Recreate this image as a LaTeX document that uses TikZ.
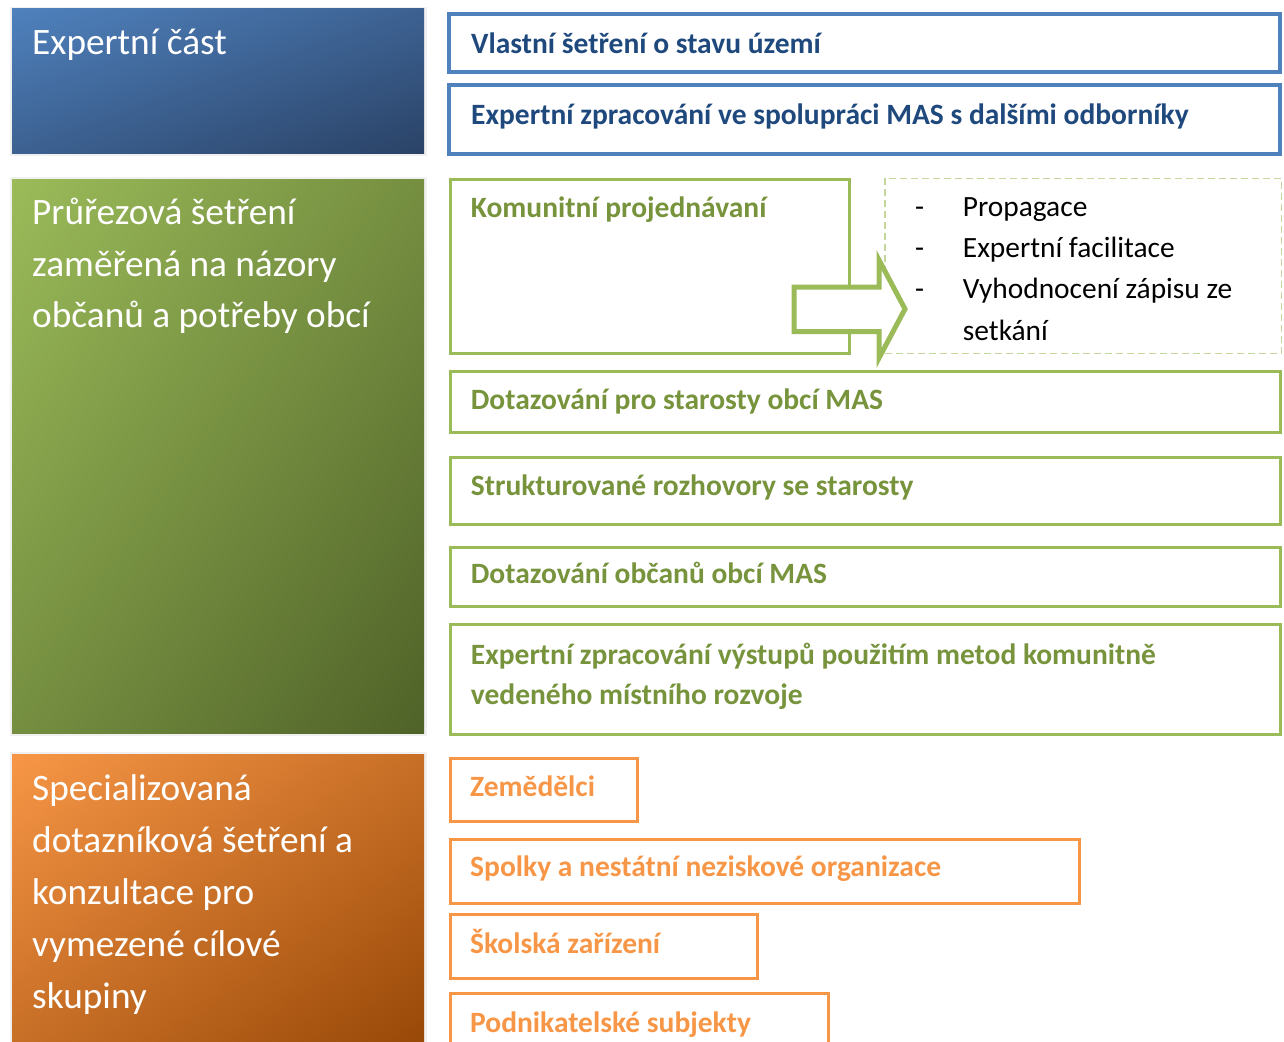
\documentclass[tikz,border=0pt]{standalone}
\usepackage{fontspec}
\setmainfont{Carlito}
\usetikzlibrary{shadings}
\definecolor{bluebd}{HTML}{4F81BD}
\definecolor{bluetx}{HTML}{1F497D}
\definecolor{bluedk}{HTML}{2A4266}
\definecolor{greenbd}{HTML}{9BBB59}
\definecolor{greentx}{HTML}{77933C}
\definecolor{greendk}{HTML}{4F6228}
\definecolor{greendash}{HTML}{C3D69B}
\definecolor{orangebd}{HTML}{F79646}
\definecolor{orangedk}{HTML}{984807}
\definecolor{graybd}{HTML}{F0F0F0}
\begin{document}
\begin{tikzpicture}[x=1pt,y=-1pt,
  rbox/.style={rectangle, inner sep=0pt, outer sep=0pt, anchor=north west},
  bluebox/.style={rbox, draw=bluebd, line width=4pt},
  greenbox/.style={rbox, draw=greenbd, line width=3pt},
  orangebox/.style={rbox, draw=orangebd, line width=3pt},
  rtxt/.style={anchor=base west, inner sep=0pt, font=\bfseries\fontsize{29.5}{40.5}\selectfont},
  btxt/.style={anchor=base west, inner sep=0pt, font=\fontsize{29.4}{41}\selectfont, text=black},
  lefttxt/.style={anchor=base west, inner sep=0pt, text=white, font=\fontsize{37.3}{52}\selectfont}]
\useasboundingbox (0,0) rectangle (1284,1041);

% ---------- left shaded panels ----------
\fill[graybd] (10,6.7) rectangle (426.7,155.7);
\shade[upper left=bluebd, lower right=bluedk, upper right=bluebd!50!bluedk, lower left=bluebd!50!bluedk]
  (12,9) rectangle (424,153.3);
\fill[graybd] (10,176.7) rectangle (426.7,735.7);
\shade[upper left=greenbd, lower right=greendk, upper right=greenbd!50!greendk, lower left=greenbd!50!greendk]
  (12,179.3) rectangle (424,733.3);
\fill[graybd] (10,752.3) rectangle (426.7,1045);
\shade[upper left=orangebd, lower right=orangedk, upper right=orangebd!50!orangedk, lower left=orangebd!50!orangedk]
  (12,754.3) rectangle (424,1045);

\node[lefttxt] (e1) at (32,55) {Expertní část};
\node[lefttxt] (p1) at (32,224.3) {Průřezová šetření};
\node[lefttxt] (p2) at (32,276) {zaměřená na názory};
\node[lefttxt] (p3) at (32,327.5) {občanů a potřeby obcí};
\node[lefttxt] (s1) at (32,800) {Specializovaná};
\node[lefttxt] (s2) at (32,852) {dotazníková šetření a};
\node[lefttxt] (s3) at (32,904) {konzultace pro};
\node[lefttxt] (s4) at (32,956.5) {vymezené cílové};
\node[lefttxt] (s5) at (32,1008) {skupiny};

% ---------- blue boxes ----------
\node[bluebox, minimum width=831pt, minimum height=58pt] (b1) at (449,14) {};
\node[rtxt, text=bluetx] (tb1) at (471,53.3) {Vlastní šetření o stavu území};
\node[bluebox, minimum width=831pt, minimum height=69pt] (b2) at (449,85) {};
\node[rtxt, text=bluetx] (tb2) at (471,124.3) {Expertní zpracování ve spolupráci MAS s dalšími odborníky};

% ---------- green boxes ----------
\node[greenbox, minimum width=399pt, minimum height=174pt] (g1) at (450,179) {};
\node[rtxt, text=greentx] (tg1) at (470.7,217.3) {Komunitní projednávaní};
\node[rbox, draw=greendash, line width=1.5pt, dash pattern=on 7pt off 4pt, minimum width=396.7pt, minimum height=175pt] (dbox) at (885,178.3) {};
\node[btxt] (d1) at (915,216.7) {-};
\node[btxt] (l1) at (962.7,216.7) {Propagace};
\node[btxt] (d2) at (915,257.3) {-};
\node[btxt] (l2) at (962.7,257.3) {Expertní facilitace};
\node[btxt] (d3) at (915,298.3) {-};
\node[btxt] (l3) at (962.7,298.3) {Vyhodnocení zápisu ze};
\node[btxt] (l4) at (962.7,340) {setkání};

% block arrow
\draw[greenbd, line width=5pt, fill=white, line join=miter, miter limit=10]
  (794,287) -- (879,287) -- (879,260) -- (905,309) -- (879,358) -- (879,331.5) -- (794,331.5) -- cycle;

\node[greenbox, minimum width=830pt, minimum height=60.5pt] (g2) at (450,371.5) {};
\node[rtxt, text=greentx] (tg2) at (470.7,409.3) {Dotazování pro starosty obcí MAS};
\node[greenbox, minimum width=830pt, minimum height=66.5pt] (g3) at (450,457.5) {};
\node[rtxt, text=greentx] (tg3) at (470.7,495) {Strukturované rozhovory se starosty};
\node[greenbox, minimum width=830pt, minimum height=59.5pt] (g4) at (450,547) {};
\node[rtxt, text=greentx] (tg4) at (470.7,583.3) {Dotazování občanů obcí MAS};
\node[greenbox, minimum width=830pt, minimum height=110pt] (g5) at (450,624) {};
\node[rtxt, text=greentx] (tg5) at (470.7,664) {Expertní zpracování výstupů použitím metod komunitně};
\node[rtxt, text=greentx] (tg6) at (470.7,704.3) {vedeného místního rozvoje};

% ---------- orange boxes ----------
\node[orangebox, minimum width=187pt, minimum height=63pt] (o1) at (450,758) {};
\node[rtxt, text=orangebd] (to1) at (470,796.7) {Zemědělci};
\node[orangebox, minimum width=629pt, minimum height=63.5pt] (o2) at (450,839.5) {};
\node[rtxt, text=orangebd] (to2) at (470,876.7) {Spolky a nestátní neziskové organizace};
\node[orangebox, minimum width=307pt, minimum height=63.3pt] (o3) at (450,914.7) {};
\node[rtxt, text=orangebd] (to3) at (470,953.3) {Školská zařízení};
\node[orangebox, minimum width=378.5pt, minimum height=70pt] (o4) at (450,993.7) {};
\node[rtxt, text=orangebd] (to4) at (470,1032.7) {Podnikatelské subjekty};
\end{tikzpicture}
\end{document}
